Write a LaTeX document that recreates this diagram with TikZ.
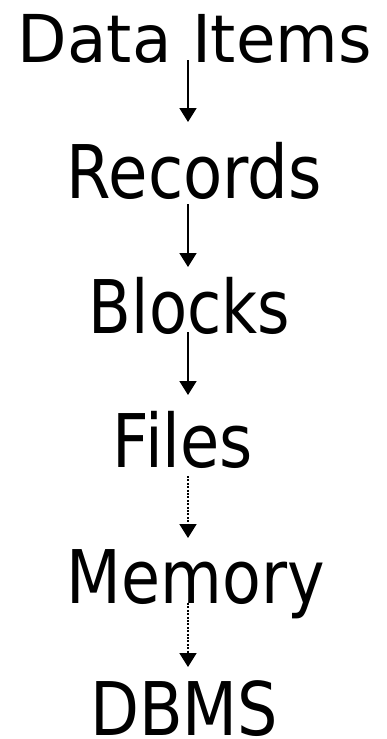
\documentclass[tikz,border=0pt]{standalone}
\usepackage{fontspec}
\usepackage{graphicx}
\setmainfont{DejaVu Sans}
\usetikzlibrary{arrows.meta}
\newcommand\fitw[2]{\resizebox{#1}{\height}{#2}}
\tikzset{
  big/.style={anchor=base, inner sep=0pt, font=\fontsize{74}{80}\selectfont},
  top/.style={anchor=base, inner sep=0pt, font=\fontsize{66}{72}\selectfont},
  link/.style={line width=1.8pt, -{Triangle[width=17pt,length=14pt]}},
  dotlink/.style={link, dash pattern=on 2pt off 1.4pt}
}
\begin{document}
\begin{tikzpicture}[x=1pt,y=1pt]
\useasboundingbox (0,0) rectangle (386,-739);
\node[top] (di) at (195,-62) {\fitw{354pt}{Data Items}};
\node[big] (rec) at (194.5,-198) {\fitw{255pt}{Records}};
\node[big] (blk) at (189.5,-333) {\fitw{201pt}{Blocks}};
\node[big] (fil) at (183,-467) {\fitw{140pt}{Files}};
\node[big] (mem) at (196,-603) {\fitw{258pt}{Memory}};
\node[big] (dbm) at (184,-735) {\fitw{188pt}{DBMS}};
\coordinate (a1) at (188,-60);  \coordinate (b1) at (188,-122);
\coordinate (a2) at (188,-204); \coordinate (b2) at (188,-267);
\coordinate (a3) at (188,-332); \coordinate (b3) at (188,-395);
\coordinate (a4) at (188,-476); \coordinate (b4) at (188,-538);
\coordinate (a5) at (188,-603); \coordinate (b5) at (188,-667);
\draw[link] (a1) -- (b1);
\draw[link] (a2) -- (b2);
\draw[link] (a3) -- (b3);
\draw[dotlink] (a4) -- (b4);
\draw[dotlink] (a5) -- (b5);
\end{tikzpicture}
\end{document}
